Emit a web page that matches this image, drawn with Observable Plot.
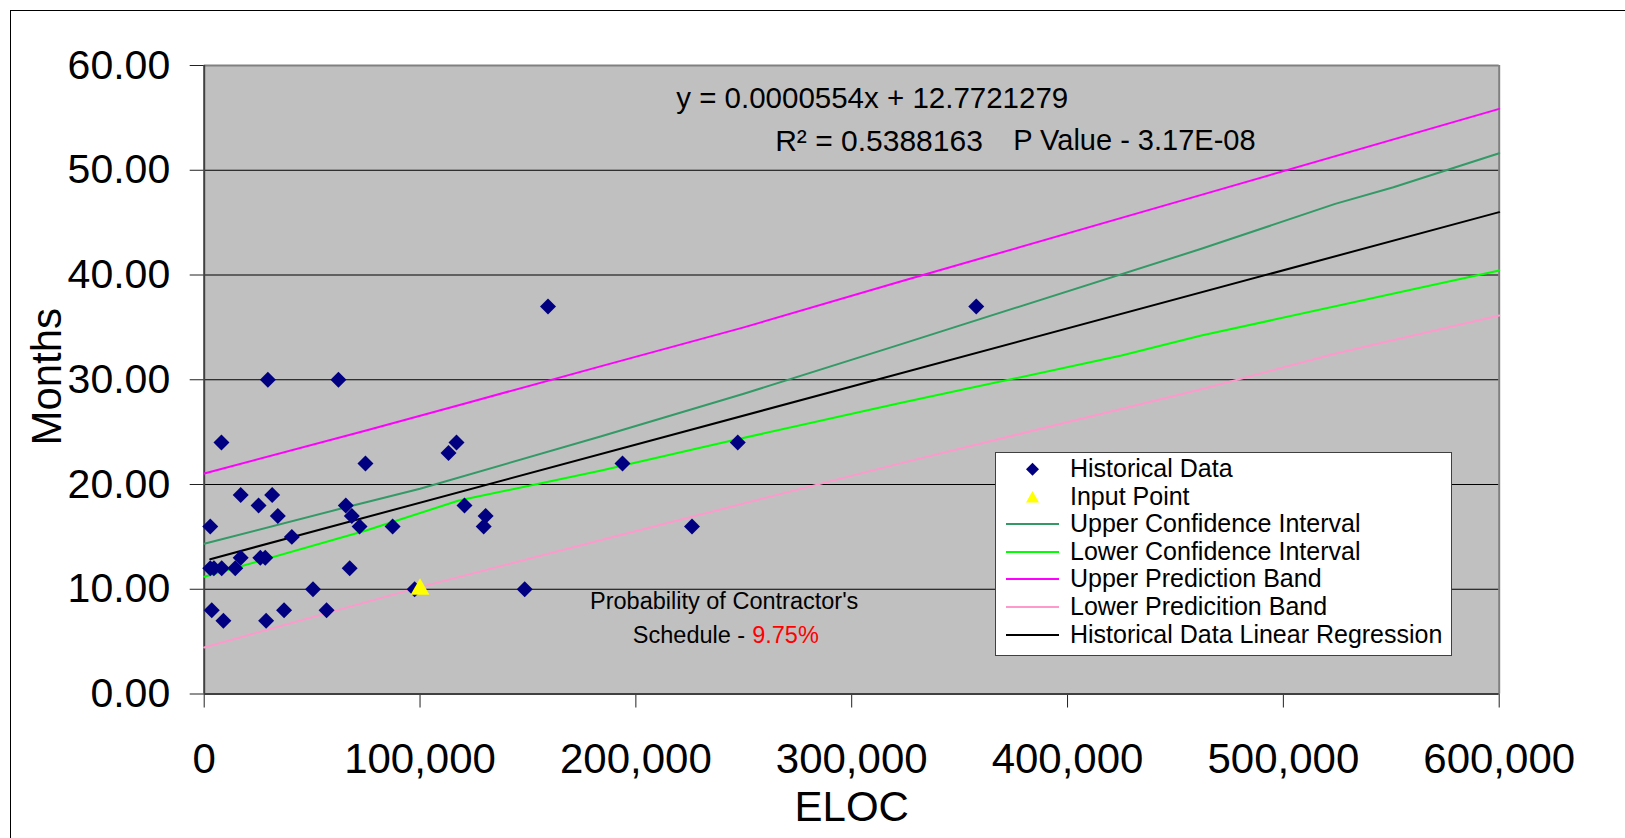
<!DOCTYPE html>
<html>
<head>
<meta charset="utf-8">
<script src="https://cdn.jsdelivr.net/npm/d3@7"></script>
<script src="https://cdn.jsdelivr.net/npm/@observablehq/plot@0.6"></script>
<style>
  html, body { margin: 0; padding: 0; background: #fff; overflow: hidden; }
  #wrap { position: relative; width: 1625px; height: 838px; font-family: "Liberation Sans", Arial, sans-serif; }
  #frame { position: absolute; left: 10px; top: 10px; width: 1700px; height: 900px; border: 1.5px solid #000; box-sizing: border-box; pointer-events: none; }
  #legend { position: absolute; left: 995px; top: 452px; width: 457px; height: 204px; background: #fff; border: 1.5px solid #404040; box-sizing: border-box; padding-top: 2px; }
  .row { position: relative; height: 27.6px; font-size: 25px; line-height: 27.6px; color: #000; white-space: nowrap; }
  .row svg { position: absolute; left: 10px; top: 0; }
  .row span { position: absolute; left: 74px; top: 0; }
</style>
</head>
<body>
<div id="wrap">
  <div id="chart"></div>
  <div id="frame"></div>
  <div id="legend"></div>
</div>
<script>
// ---- Data ----
const histEloc = [159300, 29500, 62200, 8000, 113200, 116900, 74700, 16900, 31500, 25200,
  65600, 120600, 34100, 68400, 130400, 2800, 72000, 87300, 129500, 40600,
  16900, 26000, 28300, 2800, 4500, 8100, 14400, 67400, 50400, 97500,
  148500, 3500, 37000, 56700, 8900, 28700, 193800, 226000, 247200, 357700];
const histMonths = [37, 30, 30, 24, 23, 24, 22, 19, 19, 18,
  18, 18, 17, 17, 17, 16, 16, 16, 16, 15,
  13, 13, 13, 12, 12, 12, 12, 12, 10, 10,
  10, 8, 8, 8, 7, 7, 22, 16, 24, 37];

const inputEloc = [100000];
const inputMonths = [10];

const upperConfEloc = [0, 63000, 100000, 184000, 250000, 323000, 462000, 524000, 551000, 600000];
const upperConfMonths = [14.34, 17.68, 19.59, 24.6, 28.66, 33.4, 42.5, 46.79, 48.38, 51.63];

const lowerConfEloc = [0, 75000, 118000, 184000, 246000, 323000, 425000, 462000, 600000];
const lowerConfMonths = [11.19, 15.61, 18.47, 21.34, 24.27, 27.8, 32.31, 34.22, 40.43];

const upperPredEloc = [0, 75000, 123000, 184000, 250000, 323000, 462000, 600000];
const upperPredMonths = [21.05, 25.15, 27.86, 31.3, 35.0, 39.4, 47.65, 55.86];

const lowerPredEloc = [0, 100000, 184000, 323000, 462000, 524000, 600000];
const lowerPredMonths = [4.44, 10.2, 14.7, 22.04, 29.1, 32.48, 36.13];

const regEloc = [2800, 600000];
const regMonths = [12.87, 46.0];

const xTicks = [0, 100000, 200000, 300000, 400000, 500000, 600000];
const yTicks = [0, 10, 20, 30, 40, 50, 60];
const gridTicks = [10, 20, 30, 40, 50];

const legendLabels = ["Historical Data", "Input Point", "Upper Confidence Interval", "Lower Confidence Interval",
  "Upper Prediction Band", "Lower Predicition Band", "Historical Data Linear Regression"];
const legendKinds = ["diamond", "triangle", "line", "line", "line", "line", "line"];
const legendColors = ["#000080", "#ffff00", "#339966", "#00ff00", "#ff00ff", "#ff99cc", "#000000"];

// ---- Build tables ----
const hist = histEloc.map((x, i) => ({x, y: histMonths[i]}));
const input = inputEloc.map((x, i) => ({x, y: inputMonths[i]}));
const toRows = (xs, ys) => xs.map((x, i) => ({x, y: ys[i]}));

const font = "Liberation Sans, Arial, sans-serif";

const chart = Plot.plot({
  width: 1625,
  height: 838,
  marginLeft: 203.7,
  marginRight: 126.3,
  marginTop: 65,
  marginBottom: 144.5,
  style: {fontFamily: font, background: "transparent", overflow: "visible", color: "#000"},
  x: {domain: [0, 600000]},
  y: {domain: [0, 60]},
  marks: [
    Plot.frame({fill: "#c0c0c0", stroke: null}),
    Plot.gridY(gridTicks, {stroke: "#000", strokeOpacity: 1, strokeWidth: 1}),
    Plot.ruleY([60], {stroke: "#808080", strokeWidth: 2}),
    Plot.ruleX([600000], {stroke: "#808080", strokeWidth: 2}),
    Plot.axisY({ticks: yTicks, tickFormat: d => d.toFixed(2), tickSize: 14, tickPadding: 20, fontSize: 41, label: null, stroke: "#222"}),
    Plot.axisX({ticks: xTicks, tickFormat: d3.format(","), tickSize: 14, tickPadding: 35, fontSize: 42, label: null, stroke: "#222"}),
    Plot.ruleX([0], {stroke: "#404040", strokeWidth: 2}),
    Plot.ruleY([0], {stroke: "#404040", strokeWidth: 2}),
    Plot.line(toRows(upperPredEloc, upperPredMonths), {x: "x", y: "y", stroke: "#ff00ff", strokeWidth: 2}),
    Plot.line(toRows(lowerPredEloc, lowerPredMonths), {x: "x", y: "y", stroke: "#ff99cc", strokeWidth: 2}),
    Plot.line(toRows(upperConfEloc, upperConfMonths), {x: "x", y: "y", stroke: "#339966", strokeWidth: 2}),
    Plot.line(toRows(lowerConfEloc, lowerConfMonths), {x: "x", y: "y", stroke: "#00ff00", strokeWidth: 2}),
    Plot.line(toRows(regEloc, regMonths), {x: "x", y: "y", stroke: "#000", strokeWidth: 2}),
    Plot.dot(hist, {x: "x", y: "y", symbol: "diamond2", r: 7.2, fill: "#000080", stroke: null}),
    Plot.dot(input, {x: "x", y: "y", symbol: "triangle", r: 7, fill: "#ffff00", stroke: null}),
    // annotations
    Plot.text(["y = 0.0000554x + 12.7721279"], {frameAnchor: "top-left", dx: 472, dy: 33, textAnchor: "start", lineAnchor: "middle", fontSize: 29.5}),
    Plot.text(["R² = 0.5388163"], {frameAnchor: "top-left", dx: 571, dy: 76, textAnchor: "start", lineAnchor: "middle", fontSize: 30}),
    Plot.text(["P Value - 3.17E-08"], {frameAnchor: "top-left", dx: 809, dy: 75, textAnchor: "start", lineAnchor: "middle", fontSize: 29}),
    Plot.text(["Probability of Contractor's"], {frameAnchor: "top-left", dx: 520, dy: 536, textAnchor: "middle", lineAnchor: "middle", fontSize: 23.5}),
    Plot.text(["Schedule -"], {frameAnchor: "top-left", dx: 541, dy: 570, textAnchor: "end", lineAnchor: "middle", fontSize: 23.5}),
    Plot.text(["9.75%"], {frameAnchor: "top-left", dx: 548, dy: 570, textAnchor: "start", lineAnchor: "middle", fontSize: 23.5, fill: "#ff0000"}),
    Plot.text(["ELOC"], {frameAnchor: "bottom", dy: 114, textAnchor: "middle", lineAnchor: "middle", fontSize: 42}),
    Plot.text(["Months"], {frameAnchor: "left", dx: -157, dy: -3, rotate: -90, textAnchor: "middle", lineAnchor: "middle", fontSize: 42})
  ]
});
document.getElementById("chart").appendChild(chart);

// ---- Legend ----
const legend = document.getElementById("legend");
legendLabels.forEach((label, i) => {
  const row = document.createElement("div");
  row.className = "row";
  const kind = legendKinds[i], color = legendColors[i];
  let sym;
  if (kind === "diamond") sym = `<polygon points="26.5,7.8 33,14.3 26.5,20.8 20,14.3" fill="${color}"/>`;
  else if (kind === "triangle") sym = `<polygon points="26.5,8 33,19.5 20,19.5" fill="${color}"/>`;
  else sym = `<line x1="0" x2="53" y1="14" y2="14" stroke="${color}" stroke-width="2"/>`;
  row.innerHTML = `<svg width="54" height="28">${sym}</svg><span>${label}</span>`;
  legend.appendChild(row);
});
</script>
</body>
</html>
